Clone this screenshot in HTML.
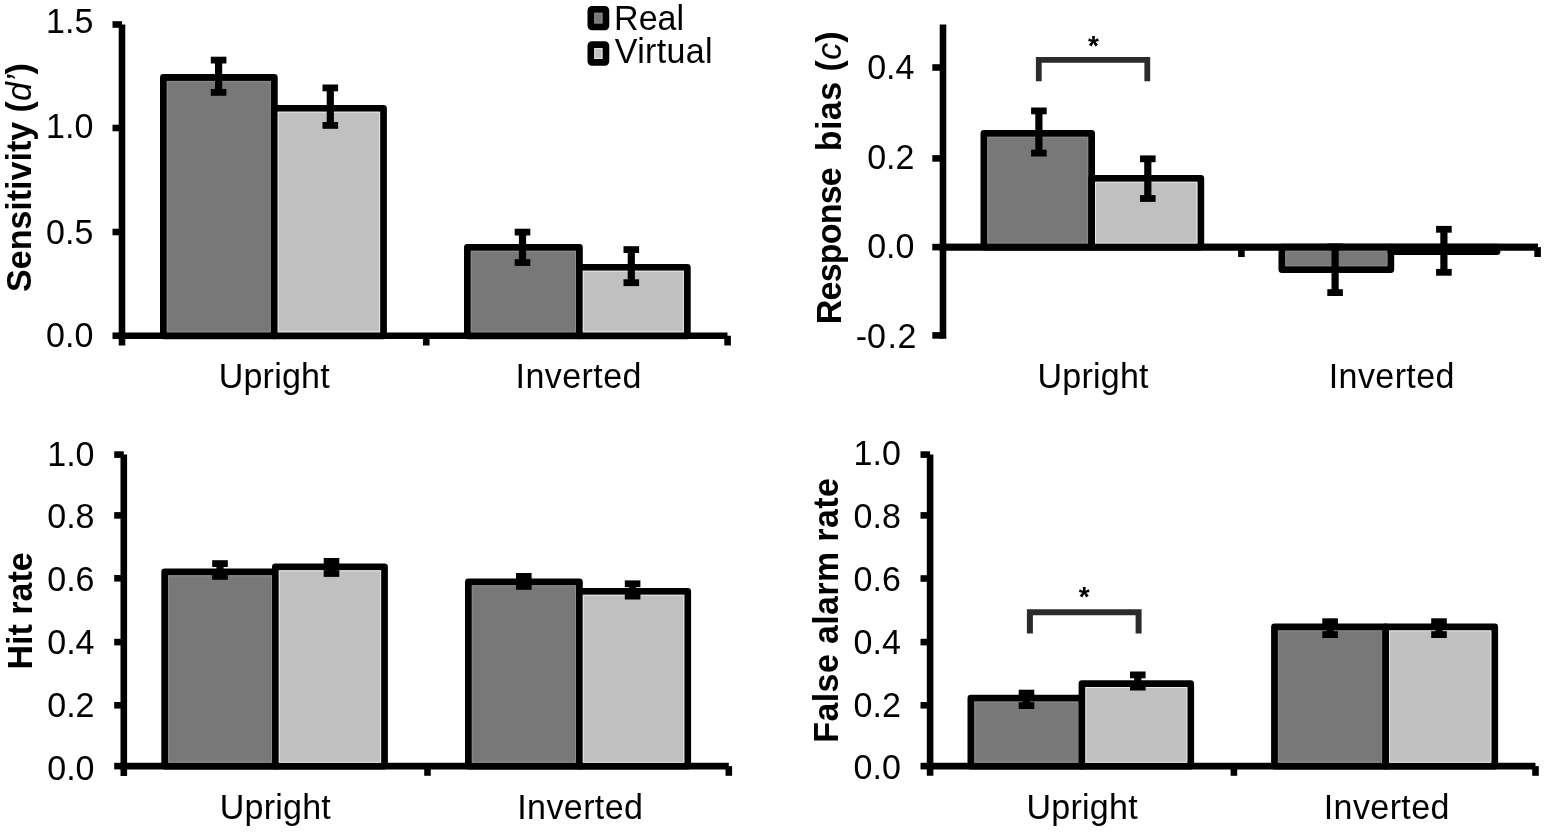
<!DOCTYPE html>
<html><head><meta charset="utf-8"><title>Figure</title>
<style>
html,body{margin:0;padding:0;background:#fff;width:1547px;height:832px;overflow:hidden}
svg{display:block}
text{font-family:"Liberation Sans",Arial,sans-serif;fill:#000}
</style></head><body>
<svg width="1547" height="832" viewBox="0 0 1547 832">
<rect width="1547" height="832" fill="#fff"/>
<line x1="122" y1="24.5" x2="122" y2="345.5" stroke="#000" stroke-width="6.6"/>
<line x1="112.5" y1="24.5" x2="122" y2="24.5" stroke="#000" stroke-width="6.6"/>
<line x1="112.5" y1="128" x2="122" y2="128" stroke="#000" stroke-width="6.6"/>
<line x1="112.5" y1="232" x2="122" y2="232" stroke="#000" stroke-width="6.6"/>
<line x1="112.5" y1="335.75" x2="122" y2="335.75" stroke="#000" stroke-width="6.6"/>
<line x1="118.7" y1="335.75" x2="727.5" y2="335.75" stroke="#000" stroke-width="6.6"/>
<line x1="426.25" y1="335.75" x2="426.25" y2="345.5" stroke="#000" stroke-width="6.6"/>
<line x1="727.6" y1="335.75" x2="727.6" y2="345.5" stroke="#000" stroke-width="6.6"/>
<rect x="163.4" y="77.5" width="110.90" height="258.25" fill="#787878" stroke="#000" stroke-width="6.8" stroke-linejoin="round"/>
<rect x="167.30" y="81.40" width="103.10" height="250.45" fill="none" stroke="#8c8c8c" stroke-width="1"/>
<rect x="274.3" y="108.3" width="109.20" height="227.45" fill="#c0c0c0" stroke="#000" stroke-width="6.8" stroke-linejoin="round"/>
<rect x="278.20" y="112.20" width="101.40" height="219.65" fill="none" stroke="#e6e6e6" stroke-width="1"/>
<rect x="467.4" y="247.4" width="112.00" height="88.35" fill="#787878" stroke="#000" stroke-width="6.8" stroke-linejoin="round"/>
<rect x="471.30" y="251.30" width="104.20" height="80.55" fill="none" stroke="#8c8c8c" stroke-width="1"/>
<rect x="579.4" y="267.3" width="107.90" height="68.45" fill="#c0c0c0" stroke="#000" stroke-width="6.8" stroke-linejoin="round"/>
<rect x="583.30" y="271.20" width="100.10" height="60.65" fill="none" stroke="#e6e6e6" stroke-width="1"/>
<line x1="218.6" y1="60.1" x2="218.6" y2="92.4" stroke="#000" stroke-width="7.2"/>
<line x1="210.79999999999998" y1="60.1" x2="226.4" y2="60.1" stroke="#000" stroke-width="6.8"/>
<line x1="210.79999999999998" y1="92.4" x2="226.4" y2="92.4" stroke="#000" stroke-width="6.8"/>
<line x1="330.3" y1="87.9" x2="330.3" y2="125.4" stroke="#000" stroke-width="7.2"/>
<line x1="322.5" y1="87.9" x2="338.1" y2="87.9" stroke="#000" stroke-width="6.8"/>
<line x1="322.5" y1="125.4" x2="338.1" y2="125.4" stroke="#000" stroke-width="6.8"/>
<line x1="522.5" y1="232.1" x2="522.5" y2="262.5" stroke="#000" stroke-width="7.2"/>
<line x1="514.7" y1="232.1" x2="530.3" y2="232.1" stroke="#000" stroke-width="6.8"/>
<line x1="514.7" y1="262.5" x2="530.3" y2="262.5" stroke="#000" stroke-width="6.8"/>
<line x1="631.3" y1="249.6" x2="631.3" y2="282.7" stroke="#000" stroke-width="7.2"/>
<line x1="623.5" y1="249.6" x2="639.0999999999999" y2="249.6" stroke="#000" stroke-width="6.8"/>
<line x1="623.5" y1="282.7" x2="639.0999999999999" y2="282.7" stroke="#000" stroke-width="6.8"/>
<text transform="translate(93.3 33.1) scale(1 1.05)" text-anchor="end" font-size="34" font-weight="normal" >1.5</text>
<text transform="translate(93.3 137.8) scale(1 1.05)" text-anchor="end" font-size="34" font-weight="normal" >1.0</text>
<text transform="translate(93.3 243.6) scale(1 1.05)" text-anchor="end" font-size="34" font-weight="normal" >0.5</text>
<text transform="translate(93.3 347.3) scale(1 1.05)" text-anchor="end" font-size="34" font-weight="normal" >0.0</text>
<text transform="translate(274.3 387.5) scale(1 1.02)" text-anchor="middle" font-size="34" font-weight="normal" letter-spacing="0.25">Upright</text>
<text transform="translate(578.7 387.5) scale(1 1.02)" text-anchor="middle" font-size="34" font-weight="normal" letter-spacing="0.42">Inverted</text>
<text transform="translate(31,177.6) rotate(-90) scale(1,1.05)" text-anchor="middle" font-size="34" font-weight="bold">Sensitivity (<tspan font-style="italic" font-weight="normal">d’</tspan>)</text>
<rect x="590.9" y="9.4" width="14.95" height="17.45" rx="1" fill="#787878" stroke="#000" stroke-width="6.8" stroke-linejoin="round"/>
<rect x="590.9" y="44.65" width="14.95" height="17.7" rx="1" fill="#c0c0c0" stroke="#000" stroke-width="6.8" stroke-linejoin="round"/>
<rect x="594.8" y="13.3" width="7.15" height="9.65" fill="none" stroke="#8c8c8c" stroke-width="1"/>
<rect x="594.8" y="48.55" width="7.15" height="9.90" fill="none" stroke="#e6e6e6" stroke-width="1"/>
<text transform="translate(614.1 29.5) scale(1 1.02)" text-anchor="start" font-size="34" font-weight="normal" >Real</text>
<text transform="translate(614.8 63.3) scale(1 1.02)" text-anchor="start" font-size="34" font-weight="normal" letter-spacing="0.35">Virtual</text>
<line x1="943" y1="24.5" x2="943" y2="338.8" stroke="#000" stroke-width="6.6"/>
<line x1="932.3" y1="67.5" x2="943" y2="67.5" stroke="#000" stroke-width="6.6"/>
<line x1="932.3" y1="158.4" x2="943" y2="158.4" stroke="#000" stroke-width="6.6"/>
<line x1="932.3" y1="247.1" x2="943" y2="247.1" stroke="#000" stroke-width="6.6"/>
<line x1="932.3" y1="335.4" x2="943" y2="335.4" stroke="#000" stroke-width="6.6"/>
<line x1="939.7" y1="247.1" x2="1538" y2="247.1" stroke="#000" stroke-width="6.6"/>
<line x1="1241.4" y1="247.1" x2="1241.4" y2="257" stroke="#000" stroke-width="6.6"/>
<line x1="1537.6" y1="247.1" x2="1537.6" y2="257" stroke="#000" stroke-width="6.6"/>
<rect x="983.9" y="133.4" width="107.70" height="113.70" fill="#787878" stroke="#000" stroke-width="6.8" stroke-linejoin="round"/>
<rect x="987.80" y="137.30" width="99.90" height="105.90" fill="none" stroke="#8c8c8c" stroke-width="1"/>
<rect x="1091.6" y="178.4" width="109.20" height="68.70" fill="#c0c0c0" stroke="#000" stroke-width="6.8" stroke-linejoin="round"/>
<rect x="1095.50" y="182.30" width="101.40" height="60.90" fill="none" stroke="#e6e6e6" stroke-width="1"/>
<rect x="1281.9" y="247.1" width="108.90" height="22.50" fill="#787878" stroke="#000" stroke-width="6.8" stroke-linejoin="round"/>
<rect x="1285.80" y="251.00" width="101.10" height="14.70" fill="none" stroke="#8c8c8c" stroke-width="1"/>
<rect x="1390.8" y="247.1" width="106.20" height="4.50" fill="#c0c0c0" stroke="#000" stroke-width="6.8" stroke-linejoin="round"/>
<line x1="939.7" y1="247.1" x2="1538" y2="247.1" stroke="#000" stroke-width="6.6"/>
<line x1="1038.9" y1="110.9" x2="1038.9" y2="153.1" stroke="#000" stroke-width="7.2"/>
<line x1="1031.1000000000001" y1="110.9" x2="1046.7" y2="110.9" stroke="#000" stroke-width="6.8"/>
<line x1="1031.1000000000001" y1="153.1" x2="1046.7" y2="153.1" stroke="#000" stroke-width="6.8"/>
<line x1="1147.8" y1="158.8" x2="1147.8" y2="198.5" stroke="#000" stroke-width="7.2"/>
<line x1="1140.0" y1="158.8" x2="1155.6" y2="158.8" stroke="#000" stroke-width="6.8"/>
<line x1="1140.0" y1="198.5" x2="1155.6" y2="198.5" stroke="#000" stroke-width="6.8"/>
<line x1="1335.1" y1="246.9" x2="1335.1" y2="292.6" stroke="#000" stroke-width="7.2"/>
<line x1="1327.3" y1="246.9" x2="1342.8999999999999" y2="246.9" stroke="#000" stroke-width="6.8"/>
<line x1="1327.3" y1="292.6" x2="1342.8999999999999" y2="292.6" stroke="#000" stroke-width="6.8"/>
<line x1="1443.9" y1="229.3" x2="1443.9" y2="272.3" stroke="#000" stroke-width="7.2"/>
<line x1="1436.1000000000001" y1="229.3" x2="1451.7" y2="229.3" stroke="#000" stroke-width="6.8"/>
<line x1="1436.1000000000001" y1="272.3" x2="1451.7" y2="272.3" stroke="#000" stroke-width="6.8"/>
<path d="M1038.8 81.3 V59.9 H1147.3 V81.3" fill="none" stroke="#2b2b2b" stroke-width="5.8" stroke-linejoin="miter"/>
<text transform="translate(1093.4 55) scale(1 1)" text-anchor="middle" font-size="28" font-weight="bold" >*</text>
<text transform="translate(914.4 78.8) scale(1 1.05)" text-anchor="end" font-size="34" font-weight="normal" >0.4</text>
<text transform="translate(914.4 168.8) scale(1 1.05)" text-anchor="end" font-size="34" font-weight="normal" >0.2</text>
<text transform="translate(914.4 257.8) scale(1 1.05)" text-anchor="end" font-size="34" font-weight="normal" >0.0</text>
<text transform="translate(855.7 347.8) scale(1 1.05)" text-anchor="start" font-size="34" font-weight="normal" >-<tspan x="11.2">0</tspan><tspan x="31.8">.</tspan><tspan x="41.9">2</tspan></text>
<text transform="translate(1093.1 387.5) scale(1 1.02)" text-anchor="middle" font-size="34" font-weight="normal" letter-spacing="0.25">Upright</text>
<text transform="translate(1391.8 387.5) scale(1 1.02)" text-anchor="middle" font-size="34" font-weight="normal" letter-spacing="0.42">Inverted</text>
<text transform="translate(840.8,324.2) rotate(-90) scale(1,1.05)" text-anchor="start" font-size="34" font-weight="bold"><tspan letter-spacing="-0.79">Response</tspan><tspan dx="16.7" letter-spacing="0.45">bias (</tspan><tspan font-style="italic" font-weight="normal">c</tspan>)</text>
<line x1="123.8" y1="454.6" x2="123.8" y2="776" stroke="#000" stroke-width="6.6"/>
<line x1="114.2" y1="454.6" x2="123.8" y2="454.6" stroke="#000" stroke-width="6.6"/>
<line x1="114.2" y1="515.4" x2="123.8" y2="515.4" stroke="#000" stroke-width="6.6"/>
<line x1="114.2" y1="578.3" x2="123.8" y2="578.3" stroke="#000" stroke-width="6.6"/>
<line x1="114.2" y1="642.1" x2="123.8" y2="642.1" stroke="#000" stroke-width="6.6"/>
<line x1="114.2" y1="705.3" x2="123.8" y2="705.3" stroke="#000" stroke-width="6.6"/>
<line x1="114.2" y1="766.1" x2="123.8" y2="766.1" stroke="#000" stroke-width="6.6"/>
<line x1="120.5" y1="766.1" x2="728.8" y2="766.1" stroke="#000" stroke-width="6.6"/>
<line x1="427.5" y1="766.1" x2="427.5" y2="775.8" stroke="#000" stroke-width="6.6"/>
<line x1="728.8" y1="766.1" x2="728.8" y2="775.8" stroke="#000" stroke-width="6.6"/>
<rect x="164.7" y="571.9" width="110.70" height="194.20" fill="#787878" stroke="#000" stroke-width="6.8" stroke-linejoin="round"/>
<rect x="168.60" y="575.80" width="102.90" height="186.40" fill="none" stroke="#8c8c8c" stroke-width="1"/>
<rect x="275.4" y="566.9" width="109.10" height="199.20" fill="#c0c0c0" stroke="#000" stroke-width="6.8" stroke-linejoin="round"/>
<rect x="279.30" y="570.80" width="101.30" height="191.40" fill="none" stroke="#e6e6e6" stroke-width="1"/>
<rect x="468.4" y="581.9" width="111.00" height="184.20" fill="#787878" stroke="#000" stroke-width="6.8" stroke-linejoin="round"/>
<rect x="472.30" y="585.80" width="103.20" height="176.40" fill="none" stroke="#8c8c8c" stroke-width="1"/>
<rect x="579.4" y="591.4" width="108.30" height="174.70" fill="#c0c0c0" stroke="#000" stroke-width="6.8" stroke-linejoin="round"/>
<rect x="583.30" y="595.30" width="100.50" height="166.90" fill="none" stroke="#e6e6e6" stroke-width="1"/>
<line x1="220" y1="563.6" x2="220" y2="576.4" stroke="#000" stroke-width="7.2"/>
<line x1="212.2" y1="563.6" x2="227.8" y2="563.6" stroke="#000" stroke-width="6.8"/>
<line x1="212.2" y1="576.4" x2="227.8" y2="576.4" stroke="#000" stroke-width="6.8"/>
<line x1="331.5" y1="561.4" x2="331.5" y2="573.5" stroke="#000" stroke-width="7.2"/>
<line x1="323.7" y1="561.4" x2="339.3" y2="561.4" stroke="#000" stroke-width="6.8"/>
<line x1="323.7" y1="573.5" x2="339.3" y2="573.5" stroke="#000" stroke-width="6.8"/>
<line x1="523.8" y1="576.4" x2="523.8" y2="586.4" stroke="#000" stroke-width="7.2"/>
<line x1="516.0" y1="576.4" x2="531.5999999999999" y2="576.4" stroke="#000" stroke-width="6.8"/>
<line x1="516.0" y1="586.4" x2="531.5999999999999" y2="586.4" stroke="#000" stroke-width="6.8"/>
<line x1="632.6" y1="583.8" x2="632.6" y2="596.1" stroke="#000" stroke-width="7.2"/>
<line x1="624.8000000000001" y1="583.8" x2="640.4" y2="583.8" stroke="#000" stroke-width="6.8"/>
<line x1="624.8000000000001" y1="596.1" x2="640.4" y2="596.1" stroke="#000" stroke-width="6.8"/>
<text transform="translate(94.5 465.6) scale(1 1.05)" text-anchor="end" font-size="34" font-weight="normal" >1.0</text>
<text transform="translate(94.5 528.1) scale(1 1.05)" text-anchor="end" font-size="34" font-weight="normal" >0.8</text>
<text transform="translate(94.5 590.6) scale(1 1.05)" text-anchor="end" font-size="34" font-weight="normal" >0.6</text>
<text transform="translate(94.5 654.2) scale(1 1.05)" text-anchor="end" font-size="34" font-weight="normal" >0.4</text>
<text transform="translate(94.5 717.2) scale(1 1.05)" text-anchor="end" font-size="34" font-weight="normal" >0.2</text>
<text transform="translate(94.5 779.7) scale(1 1.05)" text-anchor="end" font-size="34" font-weight="normal" >0.0</text>
<text transform="translate(275.4 819) scale(1 1.02)" text-anchor="middle" font-size="34" font-weight="normal" letter-spacing="0.25">Upright</text>
<text transform="translate(580.3 819) scale(1 1.02)" text-anchor="middle" font-size="34" font-weight="normal" letter-spacing="0.42">Inverted</text>
<text transform="translate(31.8,610.9) rotate(-90) scale(1,1.05)" text-anchor="middle" font-size="34" font-weight="bold">Hit rate</text>
<line x1="930.1" y1="454.6" x2="930.1" y2="775.8" stroke="#000" stroke-width="6.6"/>
<line x1="920.5" y1="454.6" x2="930.1" y2="454.6" stroke="#000" stroke-width="6.6"/>
<line x1="920.5" y1="515.4" x2="930.1" y2="515.4" stroke="#000" stroke-width="6.6"/>
<line x1="920.5" y1="578.5" x2="930.1" y2="578.5" stroke="#000" stroke-width="6.6"/>
<line x1="920.5" y1="642.1" x2="930.1" y2="642.1" stroke="#000" stroke-width="6.6"/>
<line x1="920.5" y1="705.3" x2="930.1" y2="705.3" stroke="#000" stroke-width="6.6"/>
<line x1="920.5" y1="766.1" x2="930.1" y2="766.1" stroke="#000" stroke-width="6.6"/>
<line x1="926.8000000000001" y1="766.1" x2="1535.5" y2="766.1" stroke="#000" stroke-width="6.6"/>
<line x1="1233.9" y1="766.1" x2="1233.9" y2="775.8" stroke="#000" stroke-width="6.6"/>
<line x1="1535.5" y1="766.1" x2="1535.5" y2="775.8" stroke="#000" stroke-width="6.6"/>
<rect x="970.9" y="698.2" width="111.10" height="67.90" fill="#787878" stroke="#000" stroke-width="6.8" stroke-linejoin="round"/>
<rect x="974.80" y="702.10" width="103.30" height="60.10" fill="none" stroke="#8c8c8c" stroke-width="1"/>
<rect x="1082" y="683.6" width="108.70" height="82.50" fill="#c0c0c0" stroke="#000" stroke-width="6.8" stroke-linejoin="round"/>
<rect x="1085.90" y="687.50" width="100.90" height="74.70" fill="none" stroke="#e6e6e6" stroke-width="1"/>
<rect x="1274.5" y="627" width="111.20" height="139.10" fill="#787878" stroke="#000" stroke-width="6.8" stroke-linejoin="round"/>
<rect x="1278.40" y="630.90" width="103.40" height="131.30" fill="none" stroke="#8c8c8c" stroke-width="1"/>
<rect x="1385.7" y="627" width="109.00" height="139.10" fill="#c0c0c0" stroke="#000" stroke-width="6.8" stroke-linejoin="round"/>
<rect x="1389.60" y="630.90" width="101.20" height="131.30" fill="none" stroke="#e6e6e6" stroke-width="1"/>
<line x1="1026.5" y1="693.1" x2="1026.5" y2="705.6" stroke="#000" stroke-width="7.2"/>
<line x1="1018.7" y1="693.1" x2="1034.3" y2="693.1" stroke="#000" stroke-width="6.8"/>
<line x1="1018.7" y1="705.6" x2="1034.3" y2="705.6" stroke="#000" stroke-width="6.8"/>
<line x1="1137.8" y1="674.9" x2="1137.8" y2="687.1" stroke="#000" stroke-width="7.2"/>
<line x1="1130.0" y1="674.9" x2="1145.6" y2="674.9" stroke="#000" stroke-width="6.8"/>
<line x1="1130.0" y1="687.1" x2="1145.6" y2="687.1" stroke="#000" stroke-width="6.8"/>
<line x1="1330.1" y1="621.7" x2="1330.1" y2="634.6" stroke="#000" stroke-width="7.2"/>
<line x1="1322.3" y1="621.7" x2="1337.8999999999999" y2="621.7" stroke="#000" stroke-width="6.8"/>
<line x1="1322.3" y1="634.6" x2="1337.8999999999999" y2="634.6" stroke="#000" stroke-width="6.8"/>
<line x1="1439" y1="621.7" x2="1439" y2="634.6" stroke="#000" stroke-width="7.2"/>
<line x1="1431.2" y1="621.7" x2="1446.8" y2="621.7" stroke="#000" stroke-width="6.8"/>
<line x1="1431.2" y1="634.6" x2="1446.8" y2="634.6" stroke="#000" stroke-width="6.8"/>
<path d="M1029.9 633.5 V612.3 H1138.6 V633.5" fill="none" stroke="#2b2b2b" stroke-width="6.0" stroke-linejoin="miter"/>
<text transform="translate(1084.2 606) scale(1 1)" text-anchor="middle" font-size="28" font-weight="bold" >*</text>
<text transform="translate(900.8 465.3) scale(1 1.05)" text-anchor="end" font-size="34" font-weight="normal" >1.0</text>
<text transform="translate(900.8 527.6) scale(1 1.05)" text-anchor="end" font-size="34" font-weight="normal" >0.8</text>
<text transform="translate(900.8 590.5) scale(1 1.05)" text-anchor="end" font-size="34" font-weight="normal" >0.6</text>
<text transform="translate(900.8 653.8) scale(1 1.05)" text-anchor="end" font-size="34" font-weight="normal" >0.4</text>
<text transform="translate(900.8 716.8) scale(1 1.05)" text-anchor="end" font-size="34" font-weight="normal" >0.2</text>
<text transform="translate(900.8 779.3) scale(1 1.05)" text-anchor="end" font-size="34" font-weight="normal" >0.0</text>
<text transform="translate(1082.2 819) scale(1 1.02)" text-anchor="middle" font-size="34" font-weight="normal" letter-spacing="0.25">Upright</text>
<text transform="translate(1386.8 819) scale(1 1.02)" text-anchor="middle" font-size="34" font-weight="normal" letter-spacing="0.42">Inverted</text>
<text transform="translate(838.4,610.2) rotate(-90) scale(1,1.05)" text-anchor="middle" font-size="34" font-weight="bold" letter-spacing="0.37">False alarm rate</text>
</svg>
</body></html>
